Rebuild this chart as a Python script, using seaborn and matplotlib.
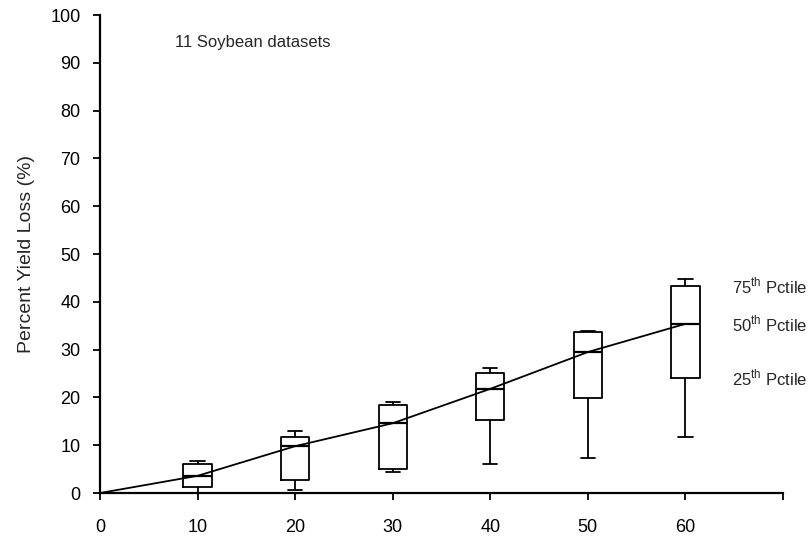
import numpy as np
import pandas as pd
import seaborn as sns
import matplotlib.pyplot as plt

# values (percent yield loss)
defoliation = [10, 20, 30, 40, 50, 60]
whisker_low = [0.0, 0.6, 4.4, 6.1, 7.3, 11.7]
pct25 = [1.3, 2.7, 5.0, 15.3, 19.9, 24.1]
pct50 = [3.6, 9.8, 14.6, 21.8, 29.5, 35.4]
pct75 = [6.1, 11.7, 18.4, 25.1, 33.7, 43.3]
whisker_high = [6.7, 13.0, 19.0, 26.2, 33.9, 44.8]

curve_x = [0] + defoliation
curve_y = [0] + pct50

# five values per level -> quartiles land exactly on the read-off values
rows = []
for i, d in enumerate(defoliation):
    for v in (whisker_low[i], pct25[i], pct50[i], pct75[i], whisker_high[i]):
        rows.append({"level": d, "loss": v})
boxes = pd.DataFrame(rows)

sns.set_theme(style="ticks")
plt.rcParams["font.family"] = ["Liberation Sans", "DejaVu Sans"]
plt.rcParams["mathtext.fontset"] = "custom"
plt.rcParams["mathtext.rm"] = "Liberation Sans"

fig = plt.figure(figsize=(8.11, 5.40), dpi=100)
ax = fig.add_axes([0.1233, 0.087, 0.8422, 0.885])

sns.boxplot(
    data=boxes, x="level", y="loss", native_scale=True, whis=(0, 100),
    width=0.29, fill=False, color="black", linewidth=1.3,
    medianprops={"linewidth": 1.6}, ax=ax,
)
sns.lineplot(x=curve_x, y=curve_y, color="black", linewidth=1.3, ax=ax)

ax.set_xlim(0, 70)
ax.set_ylim(0, 100)
ax.set_xticks([0, 10, 20, 30, 40, 50, 60, 70])
ax.set_xticklabels(["0", "10", "20", "30", "40", "50", "60", ""])
ax.set_yticks(range(0, 101, 10))
ax.tick_params(labelsize=13, length=5, width=1.3, color="black", labelcolor="black")
ax.tick_params(axis="x", pad=14)
ax.tick_params(axis="y", pad=9)
for s in ("left", "bottom"):
    ax.spines[s].set_linewidth(1.6)
    ax.spines[s].set_color("black")
sns.despine(ax=ax)
ax.set_xlabel("")
ax.set_ylabel("Percent Yield Loss (%)", fontsize=14, labelpad=11)

ax.text(7.7, 94.3, "11 Soybean datasets", fontsize=12, va="center", ha="left")
for val, lab in zip([pct75[-1], pct50[-1], pct25[-1]], ["75", "50", "25"]):
    ax.text(64.8, val, lab + r"$^{\mathrm{th}}$ Pctile", fontsize=12,
            va="center", ha="left", clip_on=False)

fig.savefig("out.png", dpi=100)
